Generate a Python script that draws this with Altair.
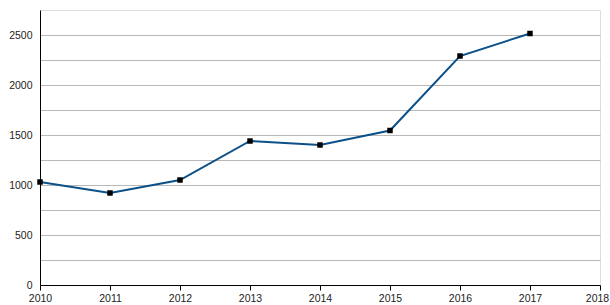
import altair as alt
import pandas as pd

years = [2010, 2011, 2012, 2013, 2014, 2015, 2016, 2017]
values = [1030, 920, 1050, 1440, 1400, 1545, 2290, 2515]
x_ticks = [2010, 2011, 2012, 2013, 2014, 2015, 2016, 2017, 2018]
y_ticks = [0, 250, 500, 750, 1000, 1250, 1500, 1750, 2000, 2250, 2500]

df = pd.DataFrame({"year": years, "value": values})

x = alt.X("year:Q", scale=alt.Scale(domain=[2010, 2018], nice=False, zero=False),
          axis=alt.Axis(values=x_ticks, format="d", title=None, grid=False,
                        domainColor="black", tickColor="black", tickSize=5,
                        labelFontSize=10.5, labelColor="#222", labelFont="Liberation Sans",
                        labelPadding=3, labelFlush=False,
                        labelOffset={"condition": {"test": "datum.value == 2018", "value": -3},
                                     "value": 0}))
y = alt.Y("value:Q", scale=alt.Scale(domain=[0, 2750], nice=False),
          axis=alt.Axis(values=y_ticks, title=None, ticks=False, grid=True,
                        gridColor="#b8b8b8", gridWidth=1, domainColor="black",
                        labelExpr="datum.value % 500 == 0 ? datum.label : ''",
                        format="d", labelFontSize=10.5, labelColor="#222",
                        labelFont="Liberation Sans", labelPadding=8))

base = alt.Chart(df)
line = base.mark_line(color="#0c5089", strokeWidth=2).encode(x=x, y=y)
pts = base.mark_square(color="black", size=30, opacity=1).encode(x=x, y=y)

chart = (line + pts).properties(
    width=560, height=275,
    padding={"left": 40, "top": 10, "right": 10, "bottom": 20},
    autosize=alt.AutoSizeParams(type="none"),
).configure_view(stroke=None).configure(background="white")

chart.save("out.html", embed_options={"renderer": "svg", "actions": False})
